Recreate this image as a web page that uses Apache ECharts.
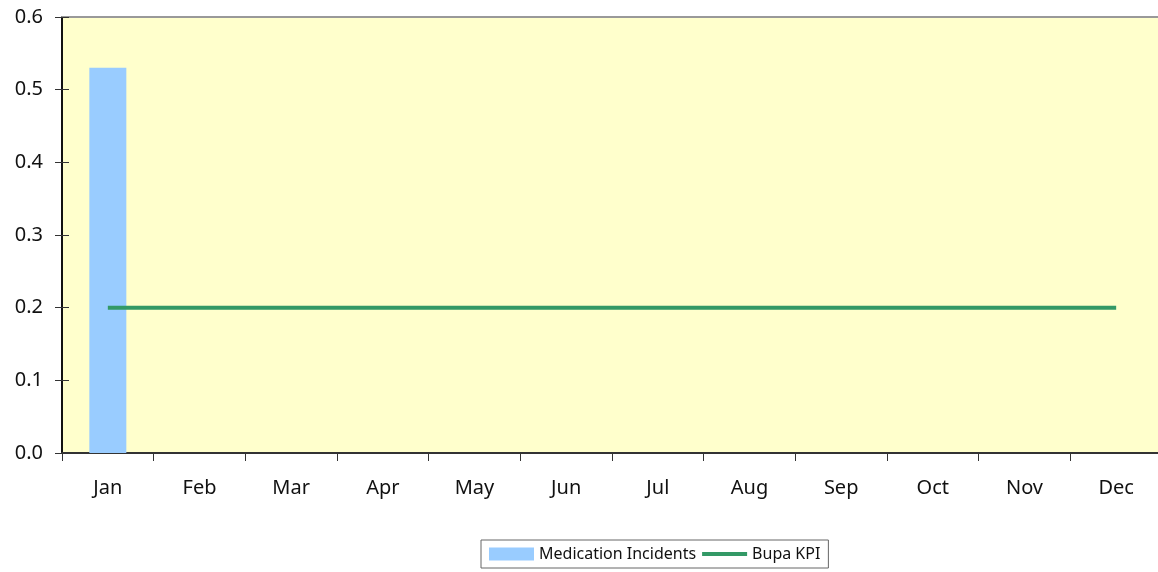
<!DOCTYPE html>
<html>
<head>
<meta charset="utf-8">
<script src="https://cdn.jsdelivr.net/npm/echarts@6/dist/echarts.min.js"></script>
<style>
  html, body { margin: 0; padding: 0; background: #fff; overflow: hidden; }
  #chart { width: 1162px; height: 572px; }
</style>
</head>
<body>
<div id="chart"></div>
<script>
var months = ['Jan', 'Feb', 'Mar', 'Apr', 'May', 'Jun', 'Jul', 'Aug', 'Sep', 'Oct', 'Nov', 'Dec'];
var incidents = [0.53, 0, 0, 0, 0, 0, 0, 0, 0, 0, 0, 0];
var kpi = [0.2, 0.2, 0.2, 0.2, 0.2, 0.2, 0.2, 0.2, 0.2, 0.2, 0.2, 0.2];

var font = 'Noto Sans';

var option = {
	backgroundColor: '#fff',
	textStyle: { fontFamily: font },
	animation: false,
	grid: {
		left: 62, right: 0, top: 17, bottom: 119,
		show: true, backgroundColor: '#ffffcc', borderWidth: 0
	},
	legend: {
		left: 481, top: 540,
		padding: [6, 8, 6, 8],
		borderColor: '#666', borderWidth: 1,
		itemWidth: 45, itemHeight: 13, itemGap: 6,
		textStyle: { fontSize: 16, color: '#111', fontFamily: font },
		data: [
			{ name: 'Medication Incidents', icon: 'rect' },
			{ name: 'Bupa KPI', icon: 'path://M0,0 L45,0 L45,4 L0,4 Z' }
		]
	},
	xAxis: [{
		type: 'category',
		data: months,
		boundaryGap: true,
		axisLine: { lineStyle: { color: '#333', width: 2 } },
		axisTick: { show: true, length: 8, lineStyle: { color: '#333' } },
		axisLabel: { fontSize: 20, color: '#111', margin: 25 },
		splitLine: { show: false }
	}, {
		type: 'category',
		data: months,
		position: 'top',
		axisLine: { onZero: false, lineStyle: { color: '#999', width: 2 } },
		axisTick: { show: false },
		axisLabel: { show: false }
	}],
	yAxis: [{
		type: 'value',
		min: 0, max: 0.6, interval: 0.1,
		axisLine: { show: true, lineStyle: { color: '#111', width: 2 } },
		axisTick: { show: true, length: 7, lineStyle: { color: '#333' } },
		axisLabel: {
			fontSize: 20, color: '#111', margin: 19,
			formatter: function (v) { return v.toFixed(1); }
		},
		splitLine: { show: false }
	}, {
		type: 'value',
		position: 'left',
		min: 0, max: 0.6, interval: 0.1,
		axisLine: { show: false },
		axisTick: { show: true, inside: true, length: 7, lineStyle: { color: '#333' } },
		axisLabel: { show: false },
		splitLine: { show: false }
	}],
	series: [{
		name: 'Medication Incidents',
		type: 'bar',
		data: incidents,
		barWidth: 37,
		itemStyle: { color: '#99ccff' }
	}, {
		name: 'Bupa KPI',
		type: 'line',
		data: kpi,
		symbol: 'none',
		lineStyle: { color: '#339966', width: 4 },
		itemStyle: { color: '#339966' }
	}]
};

var chart = echarts.init(document.getElementById('chart'));
chart.setOption(option);
</script>
</body>
</html>
